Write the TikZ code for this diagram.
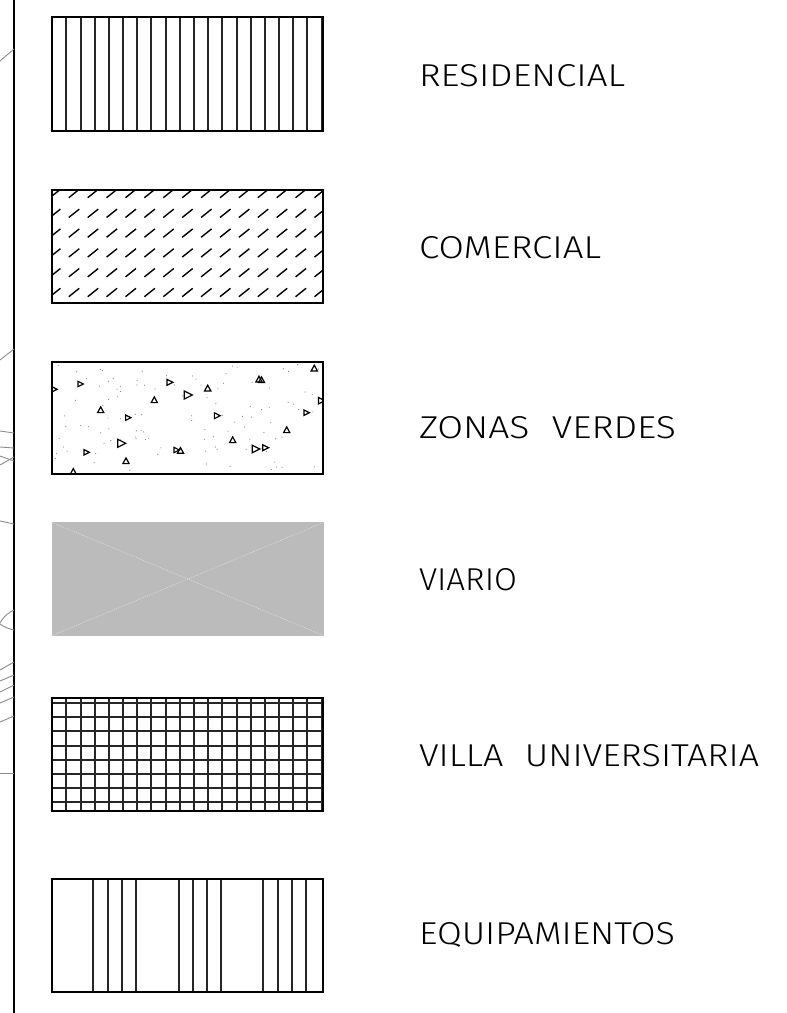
\documentclass[tikz,border=0pt]{standalone}
\usepackage{fontspec}
\IfFontExistsTF{Fira Sans Light}{\newfontfamily\cadfont{Fira Sans Light}}{\newfontfamily\cadfont{Fira Sans}}
\usepackage{graphicx}
\definecolor{road}{HTML}{BBBBBB}
\definecolor{roadline}{HTML}{DDDDDD}
\definecolor{edgegray}{HTML}{8C8C8C}
\definecolor{dotgray}{HTML}{888888}
\tikzset{
  frame/.style={line width=2pt, draw=black},
  hatch/.style={line width=2pt, draw=black!85},
  slash/.style={line width=1.4pt, draw=black},
  sidel/.style={draw=edgegray, line width=0.9pt},
  legtext/.style={anchor=west, inner sep=0pt, outer sep=0pt},
  tri/.style={draw=black, line width=1.2pt, line join=miter},
}
\newcommand\TriUp[2]{\draw[tri] (#1-3.1,#2+2.6) -- (#1+3.1,#2+2.6) -- (#1,#2-3.1) -- cycle;}
\newcommand\TriRt[3]{\draw[tri] (#1-1.12*#3,#2-1.12*#3) -- (#1+1.12*#3,#2) -- (#1-1.12*#3,#2+1.12*#3) -- cycle;}
\begin{document}
\begin{tikzpicture}[x=1pt,y=-1pt]
\useasboundingbox (0,0) rectangle (787,1013);
\fill[white] (0,0) rectangle (787,1013);

% left border line and cut-off lines
\draw[line width=2pt] (14,0) coordinate (la) -- (14,1013) coordinate (lb);
\draw[sidel] (0,61) -- (14,49);
\draw[sidel] (0,360) -- (14,349);
\draw[sidel] (0,431) -- (14,433);
\draw[sidel] (0,447) -- (14,448);
\draw[sidel] (0,456) -- (14,461);
\draw[sidel] (0,465) -- (14,457);
\draw[sidel] (0,521) -- (14,524);
\draw[sidel] (14,610) .. controls (6,614) and (2,619) .. (0,623);
\draw[sidel] (0,624) .. controls (4,627) and (9,629) .. (14,630);
\draw[sidel] (0,670) -- (14,662);
\draw[sidel] (0,681) -- (14,675);
\draw[sidel] (0,692) -- (14,685);
\draw[sidel] (0,703) -- (14,697);
\draw[sidel] (0,722) -- (14,716);
\draw[sidel] (0,773) -- (14,773);

% 1 RESIDENCIAL
\foreach \k in {1,...,19} \draw[hatch] ({round(52.3+14.17*\k)},17) -- ++(0,114);
\draw[frame] (52,17) rectangle (323,131);

% 2 COMERCIAL
\begin{scope}
\clip (52,190) rectangle (323,303);
\foreach \r in {0,...,5} \foreach \c in {-1,...,13}
  \draw[slash] ({68.8+18.9*\c},{193.5+19.8*\r+4.2}) -- ++(10.5,-8.4);
\end{scope}
\draw[frame] (52,190) rectangle (323,303);

% 3 ZONAS VERDES
\begin{scope}
\clip (52,362) rectangle (323,474);
\pgfmathsetseed{11}
\foreach \i in {1,...,110} {
  \pgfmathsetmacro\rx{55+266*rnd}
  \pgfmathsetmacro\ry{364+108*rnd}
  \fill[dotgray] (\rx,\ry) circle (0.6);
}
\TriRt{54}{389.3}{2.8}
\TriRt{80.7}{384}{2.4}
\TriRt{170}{382.3}{2.6}
\TriUp{207.7}{388.3}
\TriUp{259}{379.3}
\TriUp{261.5}{380}
\TriUp{314.3}{368.3}
\TriRt{188.3}{395}{3.6}
\TriUp{154.3}{400}
\TriRt{321.7}{400.7}{2.8}
\TriUp{100.7}{410}
\TriRt{128.3}{417.7}{2.4}
\TriRt{217.3}{415.7}{2.6}
\TriRt{306.7}{412.7}{2.4}
\TriUp{286.7}{430}
\TriRt{121.7}{443.3}{3.6}
\TriUp{232.7}{440}
\TriRt{86.7}{452.3}{2.4}
\TriRt{176.7}{450}{2.4}
\TriUp{180.5}{450.7}
\TriRt{256}{449}{3.4}
\TriRt{265.7}{447.7}{2.6}
\TriUp{126}{461}
\TriUp{73.3}{471.7}
\end{scope}
\draw[frame] (52,362) rectangle (323,474);

% 4 VIARIO
\fill[road] (51.7,522.3) rectangle (324,635.7);
\draw[roadline, line width=0.6pt, dash pattern=on 1.2pt off 1.2pt] (51.7,522.3) -- (324,635.7);
\draw[roadline, line width=0.6pt, dash pattern=on 1.2pt off 1.2pt] (51.7,635.7) -- (324,522.3);

% 5 VILLA UNIVERSITARIA
\foreach \k in {1,...,19} \draw[hatch] ({round(52.3+14.17*\k)},698) -- ++(0,113);
\foreach \k in {0,...,7} \draw[hatch] (52,{round(703.1+14.17*\k)}) -- ++(271,0);
\draw[frame] (52,698) rectangle (323,811);

% 6 EQUIPAMIENTOS
\foreach \x in {93,108,122,136,179,193,207,221,263,278,292,306}
  \draw[hatch] (\x,879) -- (\x,992);
\draw[frame] (52,879) rectangle (323,992);

% labels
\node[legtext] (t1) at (419,75.3) {\resizebox{206pt}{22pt}{\cadfont RESIDENCIAL}};
\node[legtext] (t2) at (419,247.5) {\resizebox{182pt}{22pt}{\cadfont COMERCIAL}};
\node[legtext] (t3) at (419,427.5) {\resizebox{257pt}{22pt}{\cadfont ZONAS\hspace{0.6em}VERDES}};
\node[legtext] (t4) at (419,580) {\resizebox{98pt}{22pt}{\cadfont VIARIO}};
\node[legtext] (t5) at (419,756) {\resizebox{340pt}{22pt}{\cadfont VILLA\hspace{0.6em}UNIVERSITARIA}};
\node[legtext] (t6) at (419,934.5) {\resizebox{256pt}{22pt}{\cadfont EQUIPAMIENTOS}};
\end{tikzpicture}
\end{document}
